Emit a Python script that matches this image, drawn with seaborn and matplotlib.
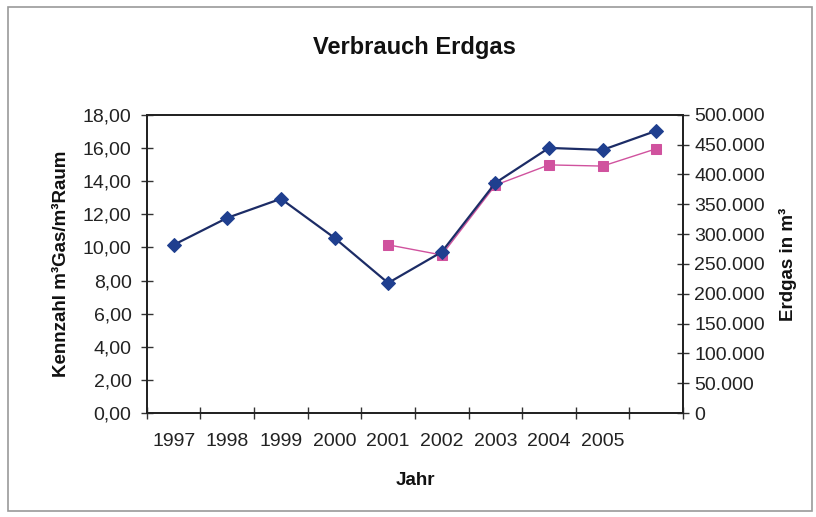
import matplotlib
matplotlib.use("Agg")
import matplotlib.pyplot as plt
import matplotlib.ticker as mticker
from matplotlib.patches import Rectangle
import seaborn as sns

# Daten
jahre = [1997, 1998, 1999, 2000, 2001, 2002, 2003, 2004, 2005, 2006]
jahr_labels = ["1997", "1998", "1999", "2000", "2001", "2002", "2003", "2004", "2005", ""]
kennzahl = [10.15, 11.78, 12.93, 10.57, 7.85, 9.72, 13.89, 16.0, 15.88, 17.03]
erdgas_jahre = [2001, 2002, 2003, 2004, 2005, 2006]
erdgas = [282000, 265000, 382000, 416000, 414000, 443000]

sns.set_theme(style="white")
plt.rcParams['font.family'] = ['Liberation Sans', 'DejaVu Sans']

fig = plt.figure(figsize=(8.16, 5.17), dpi=100)
fig.patches.append(Rectangle((0.01, 0.012), 0.985, 0.975, transform=fig.transFigure,
                             fill=False, edgecolor="#9a9a9a", linewidth=1.2))
ax = fig.add_axes([0.180, 0.201, 0.657, 0.577])
ax2 = ax.twinx()

blau = "#1f3f8f"
pink = "#d0529e"

sns.lineplot(x=jahre, y=kennzahl, ax=ax, color="#1c2c66", linewidth=1.6,
             marker="D", markersize=7, markerfacecolor=blau, markeredgecolor=blau)
sns.lineplot(x=erdgas_jahre, y=erdgas, ax=ax2, color=pink, linewidth=1.0,
             marker="s", markersize=7, markerfacecolor=pink, markeredgecolor=pink)

ax.set_zorder(ax2.get_zorder() + 1)
ax.patch.set_visible(False)

ax.set_xlim(1996.5, 2006.5)
ax.set_ylim(0, 18)
ax2.set_ylim(0, 500000)

ax.set_xticks(jahre)
ax.set_xticklabels(jahr_labels)
ax.set_xticks([1996.5 + i for i in range(11)], minor=True)
ax.tick_params(axis="x", which="major", length=0, pad=14, labelsize=14, labelcolor="#222222")
ax.tick_params(axis="x", which="minor", bottom=True, direction="inout", length=8, width=1, color="#333333")

ax.set_yticks(range(0, 19, 2))
ax.yaxis.set_major_formatter(mticker.FuncFormatter(lambda v, p: f"{v:.2f}".replace(".", ",")))
ax.tick_params(axis="y", left=True, direction="inout", length=8, width=1, color="#333333",
               labelsize=14, pad=7, labelcolor="#222222")

ax2.set_yticks(range(0, 500001, 50000))
ax2.yaxis.set_major_formatter(mticker.FuncFormatter(lambda v, p: f"{int(v):,}".replace(",", ".")))
ax2.tick_params(axis="y", right=True, direction="inout", length=8, width=1, color="#333333",
                labelsize=14, pad=4, labelcolor="#222222")

for a in (ax, ax2):
    for s in a.spines.values():
        s.set_color("#222222")
        s.set_linewidth(1.3)

ax.set_xlabel("Jahr", fontsize=13.5, fontweight="bold", labelpad=16, color="#111111")
ax.set_ylabel("Kennzahl m³Gas/m³Raum", fontsize=13.5, fontweight="bold", labelpad=9, color="#111111")
ax2.set_ylabel("Erdgas in m³", fontsize=13.5, fontweight="bold", labelpad=10, color="#111111")
ax.set_title("Verbrauch Erdgas", fontsize=17, fontweight="bold", pad=44, color="#111111")

fig.savefig("out.png", dpi=100, facecolor="white")
